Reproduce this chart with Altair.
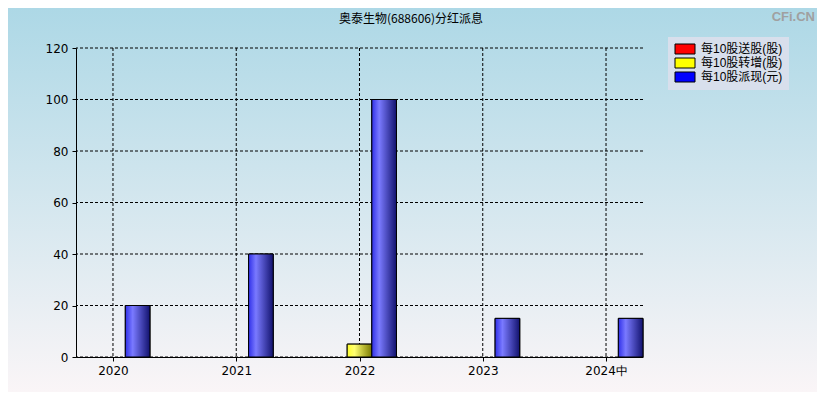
import altair as alt
import pandas as pd

years = ["2020", "2021", "2022", "2023", "2024中"]
series = ["每10股送股(股)", "每10股转增(股)", "每10股派现(元)"]
song = [0, 0, 0, 0, 0]
zhuan = [0, 0, 5, 0, 0]
pai = [20, 40, 100, 15, 15]
y_ticks = [0, 20, 40, 60, 80, 100, 120]
title_text = "奥泰生物(688606)分红派息"
watermark = "CFi.CN"

rows = []
for s_i, (name, vals) in enumerate(zip(series, [song, zhuan, pai])):
    for i, v in enumerate(vals):
        rows.append({"idx": i, "s": s_i, "series": name, "value": v})
df = pd.DataFrame(rows)
ydf = pd.DataFrame({"v": y_ticks})
xdf = pd.DataFrame({"i": list(range(len(years)))})

W, H = 567, 309
PL, PT, PR, PB = 68, 40, 174, 35
FONT = "DejaVu Sans"
CJK = "Noto Sans CJK SC"
LEGFONT = "Liberation Sans, Noto Sans CJK SC"

xscale = alt.Scale(domain=[-0.3, len(years) - 1 + 0.3], nice=False, zero=False)
yscale = alt.Scale(domain=[0, 120], nice=False, padding=0)

label_expr = "[" + ",".join("'%s'" % y for y in years) + "][datum.value]"
xaxis = alt.Axis(title=None, values=list(range(len(years))), labelExpr=label_expr,
                 grid=False, domainColor="black", tickColor="black", tickSize=4,
                 labelFont=FONT, labelFontSize=12, labelColor="black", labelPadding=4,
                 zindex=1)
yaxis = alt.Axis(title=None, values=y_ticks, grid=False, domainColor="black",
                 tickColor="black", tickSize=4, labelFont=FONT, labelFontSize=12,
                 labelColor="black", labelPadding=4, zindex=1)


def grad(c0, c1, c2):
    return alt.Gradient(gradient="linear", x1=0, x2=1, y1=0, y2=0,
                        stops=[alt.GradientStop(offset=0, color=c0),
                               alt.GradientStop(offset=0.3, color=c1),
                               alt.GradientStop(offset=1, color=c2)])


bg = alt.Chart(alt.Data(values=[{}])).mark_rect(
    fill=alt.Gradient(gradient="linear", x1=0, x2=0, y1=0, y2=1,
                      stops=[alt.GradientStop(offset=0, color="#ADD8E6"),
                             alt.GradientStop(offset=1, color="#FAF5F7")])
).encode(x=alt.value(-PL), x2=alt.value(W + PR), y=alt.value(-PT), y2=alt.value(H + PB))

hgrid = alt.Chart(ydf).mark_rule(color="black", strokeDash=[3, 2], strokeWidth=1).encode(
    y=alt.Y("v:Q", scale=yscale, axis=yaxis))
vgrid = alt.Chart(xdf).mark_rule(color="black", strokeDash=[3, 2], strokeWidth=1).encode(
    x=alt.X("i:Q", scale=xscale, axis=xaxis))

bar_base = alt.Chart(df).transform_calculate(
    lo="datum.idx + (datum.s - 1) * 0.2 - 0.1",
    hi="datum.idx + (datum.s - 1) * 0.2 + 0.1",
).transform_filter("datum.value > 0")

legend = alt.Legend(title=None, orient="none", legendX=592, legendY=-11,
                    symbolType="M-1,-1H3V1H-1Z", symbolSize=100,
                    symbolStrokeColor="black", symbolStrokeWidth=1, symbolOpacity=1,
                    labelFont=LEGFONT, labelFontSize=12, labelColor="black", labelOffset=15,
                    padding=6, rowPadding=0, fillColor="#D8DFEC", labelLimit=200)

bars = bar_base.mark_bar(stroke="black", strokeWidth=1, opacity=1).encode(
    x=alt.X("lo:Q", scale=xscale, axis=xaxis),
    x2="hi:Q",
    y=alt.Y("value:Q", scale=yscale, axis=yaxis),
    y2=alt.datum(0),
    color=alt.Color("series:N", scale=alt.Scale(domain=series,
                                                range=["#FF0000", "#FFFF00", "#0000FF"]),
                    legend=legend),
)

grads = [grad("#E00000", "#FF7070", "#700000"),
         grad("#FFFF30", "#FFFF70", "#7A7A00"),
         grad("#3030E8", "#7A7AFF", "#12126E")]
glayers = []
for s_i, g in enumerate(grads):
    glayers.append(
        bar_base.transform_filter("datum.s == %d" % s_i)
        .mark_bar(fill=g, stroke="black", strokeWidth=1)
        .encode(x=alt.X("lo:Q", scale=xscale, axis=xaxis), x2="hi:Q",
                y=alt.Y("value:Q", scale=yscale, axis=yaxis), y2=alt.datum(0))
    )

title = alt.Chart(alt.Data(values=[{"t": title_text}])).mark_text(
    font=CJK, fontSize=12, color="black", align="center", baseline="alphabetic"
).encode(text="t:N", x=alt.value(335), y=alt.value(-25))

wm = alt.Chart(alt.Data(values=[{"t": watermark}])).mark_text(
    font="Liberation Sans", fontSize=13, fontWeight="bold", color="#A0A0A0",
    align="right", baseline="alphabetic"
).encode(text="t:N", x=alt.value(739), y=alt.value(-27))

chart = alt.layer(bg, hgrid, vgrid, bars, *glayers, title, wm).properties(
    width=W, height=H,
    autosize=alt.AutoSizeParams(type="none"),
    padding={"left": PL, "top": PT, "right": PR, "bottom": PB},
).configure_view(stroke=None)

chart.save("out.html", embed_options={"renderer": "svg", "actions": False})
